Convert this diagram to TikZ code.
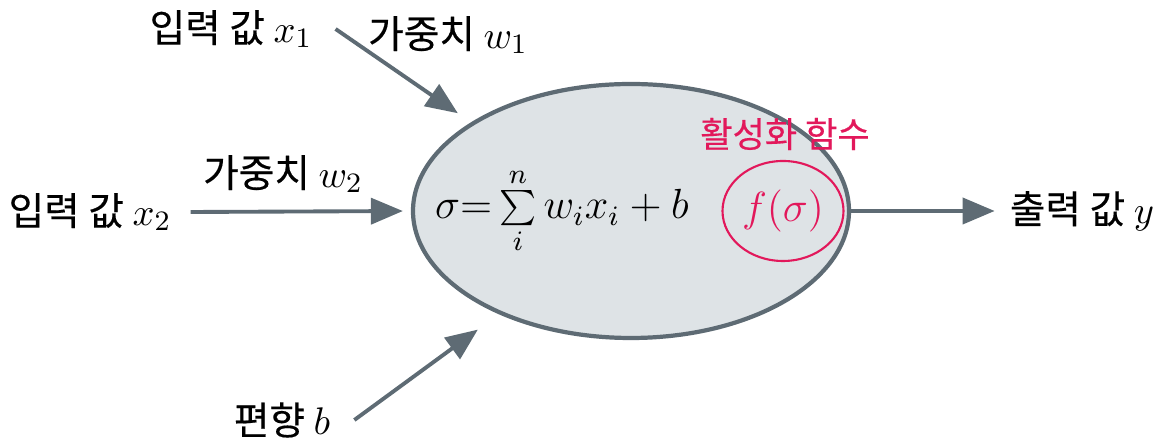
\documentclass[tikz,border=0pt]{standalone}
\usepackage{fontspec}
\newfontfamily\krfont[FakeBold=0.4]{Noto Sans CJK KR}
\usetikzlibrary{arrows.meta,positioning,shapes.geometric}
\definecolor{NeuSlate}{HTML}{5E6B74}
\definecolor{NeuFill}{HTML}{DEE3E6}
\definecolor{NeuRose}{HTML}{E2185B}

\begin{document}
\begin{tikzpicture}[
      lbl/.style={font=\krfont\fontsize{11}{13}\selectfont,inner sep=1pt},
      cell/.style={ellipse,draw=NeuSlate,line width=1.2pt,fill=NeuFill,
                   minimum width=4.36cm,minimum height=2.54cm},
      act/.style={ellipse,draw=NeuRose,line width=0.6pt,inner sep=0pt,
                  minimum width=1.21cm,minimum height=1.0cm,text=NeuRose},
      flow/.style={-{Triangle[length=3.2mm,width=2.6mm]},line width=1.1pt,draw=NeuSlate}]
    \useasboundingbox (0,0) rectangle (11.57,4.42);
    % neuron body
    \node[cell] (cell) at (6.31,2.31) {};
    \node (sum) at (5.62,2.31) {\large$\sigma{=}\sum\limits_i^n w_ix_i+b$};
    \node[act] (act) at (7.83,2.31) {\large$f(\sigma)$};
    \node[lbl,font=\krfont\fontsize{10}{12}\selectfont,text=NeuRose] (actname) at (7.85,3.08) {활성화 함수};
    % inputs, weights, bias, output
    \node[lbl] (in1)  at (2.31,4.13) {입력 값 $x_1$};
    \node[lbl] (w1)   at (4.48,4.07) {가중치 $w_1$};
    \node[lbl] (in2)  at (0.90,2.30) {입력 값 $x_2$};
    \node[lbl] (w2)   at (2.83,2.68) {가중치 $w_2$};
    \node[lbl] (bias) at (2.82,0.22) {편향 $b$};
    \node[lbl] (out)  at (10.82,2.31) {출력 값 $y$};
    \coordinate[right=1.9mm of in1] (t1);
    \coordinate[right=1.5mm of in2] (t2);
    \coordinate[right=2mm of bias] (t3);
    \draw[flow,shorten >=1.6mm] (t1) -- (cell.151);
    \draw[flow,shorten >=0.8mm] (t2) -- (cell.west);
    \draw[flow,shorten >=2.6mm] (t3) -- (cell.218);
    \draw[flow,shorten >=1.1mm] (cell.east) -- (out.west);
  \end{tikzpicture}
\end{document}
